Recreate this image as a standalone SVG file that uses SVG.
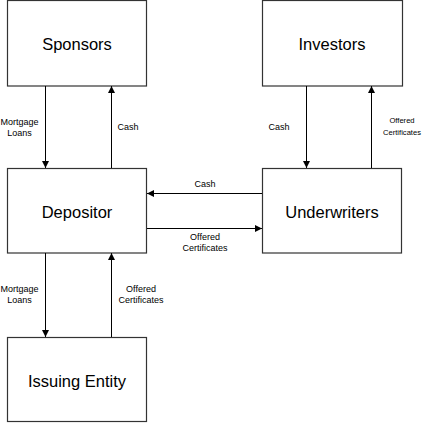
<svg xmlns="http://www.w3.org/2000/svg" width="423" height="423" viewBox="0 0 423 423">
<defs>
<marker id="ah" markerWidth="8" markerHeight="8" refX="7" refY="4" orient="auto" markerUnits="userSpaceOnUse">
<path d="M0,0.5 L7,4 L0,7.5 Z" fill="#000"/>
</marker>
<style>
.box{fill:#fff;stroke:#333;stroke-width:1.2}
.big{font-family:"Liberation Sans",Arial,sans-serif;font-size:16.5px;text-anchor:middle;fill:#000}
.sm{font-family:"Liberation Sans",Arial,sans-serif;font-size:9px;text-anchor:middle;fill:#000}
.xs{font-size:7.6px}
.ln{stroke:#000;stroke-width:1;fill:none;marker-end:url(#ah)}
</style>
</defs>
<rect width="423" height="423" fill="#fff"/>
<g id="sponsors"><rect class="box" x="7.5" y="0.5" width="139" height="85.5"/><text class="big" x="77" y="50">Sponsors</text></g>
<g id="investors"><rect class="box" x="262.5" y="0.5" width="140" height="85.5"/><text class="big" x="332" y="50">Investors</text></g>
<g id="depositor"><rect class="box" x="7.5" y="168.5" width="139" height="84.5"/><text class="big" x="77" y="218">Depositor</text></g>
<g id="underwriters"><rect class="box" x="262.5" y="168.5" width="139" height="84.5"/><text class="big" x="332" y="218">Underwriters</text></g>
<g id="issuing"><rect class="box" x="7.5" y="337.5" width="139" height="84"/><text class="big" x="77" y="387">Issuing Entity</text></g>
<g id="connectors">
<line class="ln" x1="45.5" y1="86" x2="45.5" y2="168"/>
<line class="ln" x1="111.5" y1="168" x2="111.5" y2="86"/>
<line class="ln" x1="306.5" y1="86" x2="306.5" y2="168"/>
<line class="ln" x1="371.5" y1="168" x2="371.5" y2="86"/>
<line class="ln" x1="262" y1="193.5" x2="147" y2="193.5"/>
<line class="ln" x1="147" y1="228.5" x2="262" y2="228.5"/>
<line class="ln" x1="45.5" y1="253" x2="45.5" y2="337"/>
<line class="ln" x1="111.5" y1="337" x2="111.5" y2="253"/>
<text class="sm" x="19.5" y="125">Mortgage</text><text class="sm" x="19.5" y="136">Loans</text>
<text class="sm" x="128" y="130">Cash</text>
<text class="sm" x="279" y="130">Cash</text>
<text class="sm xs" x="402" y="123">Offered</text><text class="sm xs" x="402" y="135">Certificates</text>
<text class="sm" x="205" y="187">Cash</text>
<text class="sm" x="205" y="240">Offered</text><text class="sm" x="205" y="251">Certificates</text>
<text class="sm" x="19.5" y="292">Mortgage</text><text class="sm" x="19.5" y="303">Loans</text>
<text class="sm" x="141" y="292">Offered</text><text class="sm" x="141" y="303">Certificates</text>
</g>
</svg>
